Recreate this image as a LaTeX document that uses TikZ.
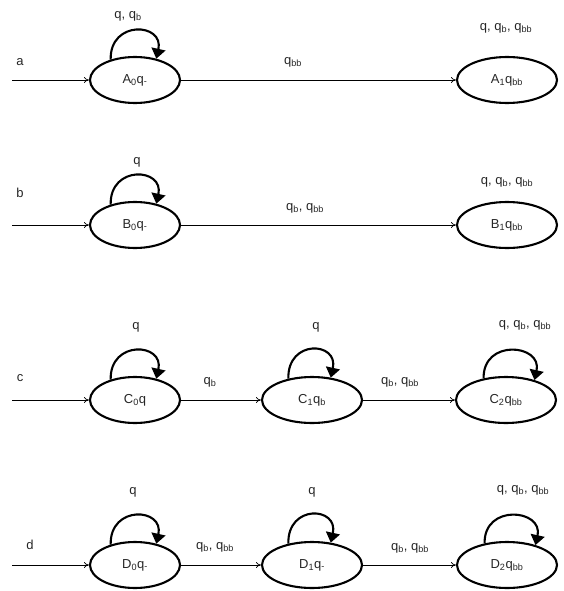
\documentclass[tikz,border=0pt]{standalone}
\usepackage{fontspec}
\setmainfont{Liberation Sans}
\usetikzlibrary{arrows.meta,shapes.geometric}
\newcommand{\sub}[1]{\textsubscript{#1}}
\begin{document}
\begin{tikzpicture}[x=1pt,y=-1pt,
  state/.style={draw,ellipse,line width=2.1pt,minimum width=100pt,minimum height=46pt,inner sep=0pt,
    font=\fontsize{13}{15}\selectfont,text=black!85},
  first/.style={state,minimum width=90pt},
  edge/.style={line width=0.7pt,-{To[length=5pt,width=6pt]}},
  selfloop/.style={line width=2.1pt,-{Triangle[length=10pt,width=14pt]}},
  lbl/.style={inner sep=0pt,font=\fontsize{13}{15}\selectfont,text=black!85}]
\useasboundingbox (0,0) rectangle (563,591);

% row a
\coordinate (sa) at (12,80);
\node[first] (A0) at (135,80) {A\sub{0}q\sub{-}};
\node[state] (A1) at (507,80) {A\sub{1}q\sub{bb}};
\node[lbl] (la) at (20,62) {a};
\draw[edge] (sa) -- (A0);
\draw[edge] (A0) -- (A1);
\node[lbl] (ea) at (293,62) {q\sub{bb}};
\draw[selfloop] (A0.140) .. controls +(-1,-40) and +(8,-36) .. (A0.45);
\node[lbl] (lpA0) at (128,16) {q, q\sub{b}};
\node[lbl] (lpA1) at (506,28) {q, q\sub{b}, q\sub{bb}};

% row b
\coordinate (sb) at (12,225);
\node[first] (B0) at (135,225) {B\sub{0}q\sub{-}};
\node[state] (B1) at (507,225) {B\sub{1}q\sub{bb}};
\node[lbl] (lb) at (20,193) {b};
\draw[edge] (sb) -- (B0);
\draw[edge] (B0) -- (B1);
\node[lbl] (eb) at (305,208) {q\sub{b}, q\sub{bb}};
\draw[selfloop] (B0.140) .. controls +(-1,-40) and +(8,-36) .. (B0.45);
\node[lbl] (lpB0) at (137,162) {q};
\node[lbl] (lpB1) at (507,182) {q, q\sub{b}, q\sub{bb}};

% row c
\coordinate (sc) at (12,400);
\node[first] (C0) at (135,400) {C\sub{0}q};
\node[state] (C1) at (312,400) {C\sub{1}q\sub{b}};
\node[state] (C2) at (506,400) {C\sub{2}q\sub{bb}};
\node[lbl] (lc) at (20,378) {c};
\draw[edge] (sc) -- (C0);
\draw[edge] (C0) -- (C1);
\draw[edge] (C1) -- (C2);
\node[lbl] (ec1) at (210,382) {q\sub{b}};
\node[lbl] (ec2) at (400,382) {q\sub{b}, q\sub{bb}};
\draw[selfloop] (C0.140) .. controls +(-1,-40) and +(8,-36) .. (C0.45);
\draw[selfloop] (C1.138) .. controls +(-1,-40) and +(8,-36) .. (C1.50);
\draw[selfloop] (C2.136) .. controls +(-1,-40) and +(8,-36) .. (C2.35);
\node[lbl] (lpC0) at (136,327) {q};
\node[lbl] (lpC1) at (316,327) {q};
\node[lbl] (lpC2) at (525,325) {q, q\sub{b}, q\sub{bb}};

% row d
\coordinate (sd) at (12,565);
\node[first] (D0) at (135,565) {D\sub{0}q\sub{-}};
\node[state] (D1) at (312,565) {D\sub{1}q\sub{-}};
\node[state] (D2) at (507,565) {D\sub{2}q\sub{bb}};
\node[lbl] (ld) at (30,545) {d};
\draw[edge] (sd) -- (D0);
\draw[edge] (D0) -- (D1);
\draw[edge] (D1) -- (D2);
\node[lbl] (ed1) at (215,547) {q\sub{b}, q\sub{bb}};
\node[lbl] (ed2) at (410,548) {q\sub{b}, q\sub{bb}};
\draw[selfloop] (D0.140) .. controls +(-1,-40) and +(8,-36) .. (D0.45);
\draw[selfloop] (D1.138) .. controls +(-1,-40) and +(8,-36) .. (D1.50);
\draw[selfloop] (D2.136) .. controls +(-1,-40) and +(8,-36) .. (D2.35);
\node[lbl] (lpD0) at (133,492) {q};
\node[lbl] (lpD1) at (312,492) {q};
\node[lbl] (lpD2) at (523,490) {q, q\sub{b}, q\sub{bb}};
\end{tikzpicture}
\end{document}
